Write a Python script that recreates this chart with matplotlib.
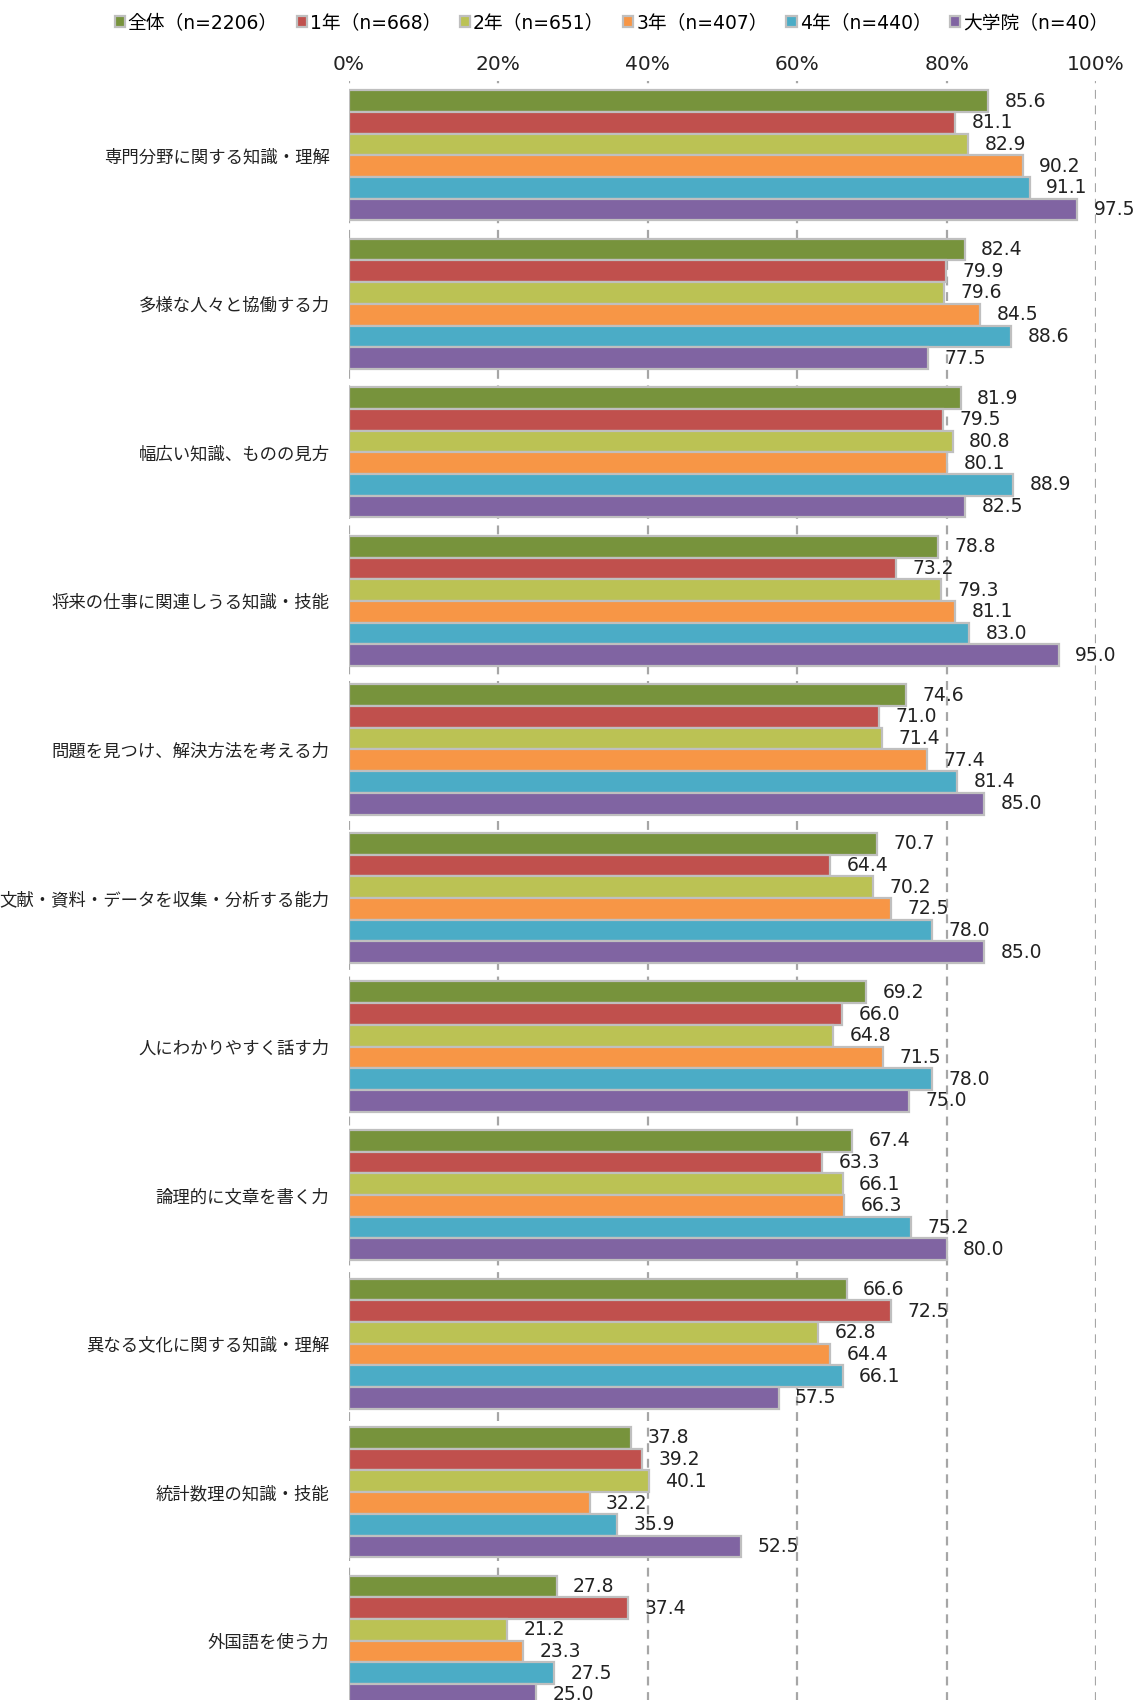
import numpy as np
import matplotlib
matplotlib.use('Agg')
from matplotlib import pyplot as plt

plt.rcParams['font.family'] = ['DejaVu Sans', 'Noto Sans CJK JP']

categories = ['専門分野に関する知識・理解', '多様な人々と協働する力', '幅広い知識、ものの見方',
              '将来の仕事に関連しうる知識・技能', '問題を見つけ、解決方法を考える力',
              '文献・資料・データを収集・分析する能力', '人にわかりやすく話す力',
              '論理的に文章を書く力', '異なる文化に関する知識・理解', '統計数理の知識・技能',
              '外国語を使う力']
series = ['全体（n=2206）', '1年（n=668）', '2年（n=651）', '3年（n=407）', '4年（n=440）', '大学院（n=40）']
zentai = [85.6, 82.4, 81.9, 78.8, 74.6, 70.7, 69.2, 67.4, 66.6, 37.8, 27.8]
nen1 = [81.1, 79.9, 79.5, 73.2, 71.0, 64.4, 66.0, 63.3, 72.5, 39.2, 37.4]
nen2 = [82.9, 79.6, 80.8, 79.3, 71.4, 70.2, 64.8, 66.1, 62.8, 40.1, 21.2]
nen3 = [90.2, 84.5, 80.1, 81.1, 77.4, 72.5, 71.5, 66.3, 64.4, 32.2, 23.3]
nen4 = [91.1, 88.6, 88.9, 83.0, 81.4, 78.0, 78.0, 75.2, 66.1, 35.9, 27.5]
daigakuin = [97.5, 77.5, 82.5, 95.0, 85.0, 85.0, 75.0, 80.0, 57.5, 52.5, 25.0]
values = [zentai, nen1, nen2, nen3, nen4, daigakuin]
colors = ['#77933C', '#C0504D', '#BBC254', '#F79646', '#4BACC6', '#8064A2']

fig = plt.figure(figsize=(11.43, 17), dpi=100)
# 軸の下端は画像の外にはみ出す(元画像が切れているため)
ax = fig.add_axes([349 / 1143, -15 / 1700, 747 / 1143, 1634 / 1700])

h = 0.146
y = np.arange(len(categories))
for k, (name, vals, c) in enumerate(zip(series, values, colors)):
    pos = y - 2.5 * h + k * h
    ax.barh(pos, vals, height=h, color=c, edgecolor='#BFBFBF', linewidth=1.6,
            label=name, zorder=3)
    for p, v in zip(pos, vals):
        ax.text(v + 2.2, p, f'{v:.1f}', va='center', ha='left', fontsize=13.5,
                color='#222222', zorder=4)

ax.set_xlim(0, 100)
ax.set_ylim(len(categories) - 0.5, -0.5)
ax.set_xticks(np.arange(0, 101, 20))
ax.set_xticklabels([f'{t}%' for t in range(0, 101, 20)], fontsize=14.5)
ax.xaxis.tick_top()
ax.tick_params(axis='x', length=0, pad=5, colors='#222222')
ax.set_yticks(y)
ax.set_yticklabels(categories, fontsize=12.5)
ax.tick_params(axis='y', length=0, pad=14, colors='#222222')
ax.grid(axis='x', color='#A6A6A6', linestyle=(0, (4, 3)), linewidth=1.6, zorder=1)
for s in ax.spines.values():
    s.set_visible(False)

handles, labels = ax.get_legend_handles_labels()
fig.legend(handles, labels, loc='upper center', bbox_to_anchor=(0.535, 1.002), ncol=6,
           frameon=False, fontsize=13.5, handlelength=0.55, handleheight=0.55,
           handletextpad=0.15, columnspacing=1.0)

fig.savefig('out.png', dpi=100)
